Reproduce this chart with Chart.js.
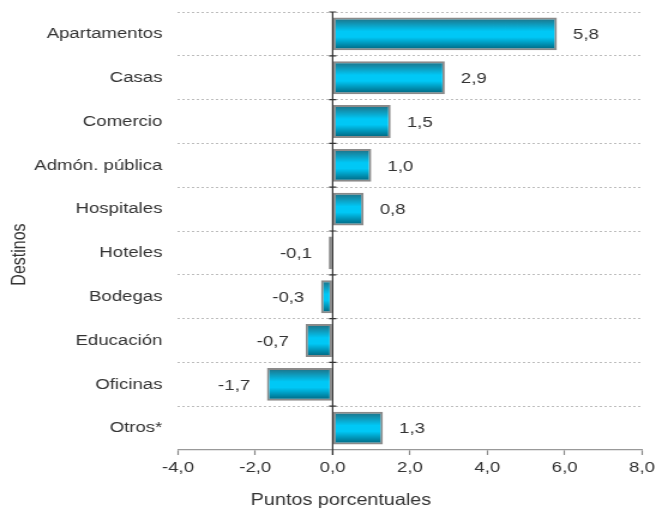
<!DOCTYPE html>
<html>
<head>
<meta charset="utf-8">
<script src="https://cdn.jsdelivr.net/npm/chart.js@4"></script>
<style>
  html, body { margin: 0; padding: 0; background: #fff; overflow: hidden; }
  #c { display: block; width: 547px; height: 508px; transform: scaleX(1.19927); transform-origin: 0 0; }
</style>
</head>
<body>
<canvas id="c" width="547" height="508"></canvas>
<script>
const categories = ['Apartamentos', 'Casas', 'Comercio', 'Admón. pública', 'Hospitales', 'Hoteles', 'Bodegas', 'Educación', 'Oficinas', 'Otros*'];
const values = [5.8, 2.9, 1.5, 1.0, 0.8, -0.1, -0.3, -0.7, -1.7, 1.3];
const xTicks = [-4, -2, 0, 2, 4, 6, 8];
const xTitle = 'Puntos porcentuales';
const yTitle = 'Destinos';

const FONT = '"Liberation Sans", Arial, sans-serif';
const fmt = v => v.toFixed(1).replace('.', ',');

const customPlugin = {
  id: 'custom',
  beforeDatasetsDraw(chart) {
    const ctx = chart.ctx;
    const meta = chart.getDatasetMeta(0);
    meta.data.forEach(el => {
      const p = el.getProps(['y', 'height'], true);
      const g = ctx.createLinearGradient(0, p.y - p.height / 2, 0, p.y + p.height / 2);
      g.addColorStop(0, '#1f6c80');
      g.addColorStop(0.42, '#00c8f6');
      g.addColorStop(0.6, '#00c8f6');
      g.addColorStop(1, '#005f77');
      el.options = Object.assign({}, el.options, { backgroundColor: g });
    });
  },
  afterDatasetsDraw(chart) {
    const ctx = chart.ctx;
    const xs = chart.scales.x;
    const ca = chart.chartArea;
    const x0 = xs.getPixelForValue(0);
    ctx.save();
    ctx.strokeStyle = '#333';
    ctx.lineWidth = 1.2;
    ctx.beginPath();
    ctx.moveTo(x0, ca.top);
    ctx.lineTo(x0, ca.bottom + 5);
    const n = categories.length;
    const h = (ca.bottom - ca.top) / n;
    for (let i = 0; i < n; i++) {
      const y = ca.top + i * h;
      ctx.moveTo(x0 - 3, y);
      ctx.lineTo(x0 + 3, y);
    }
    ctx.stroke();

    const meta = chart.getDatasetMeta(0);
    ctx.font = '15.5px ' + FONT;
    ctx.fillStyle = '#333';
    ctx.textBaseline = 'middle';
    meta.data.forEach((el, i) => {
      const v = values[i];
      const t = fmt(v);
      if (v >= 0) {
        ctx.textAlign = 'left';
        ctx.fillText(t, el.x + 13.5, el.y + 1);
      } else {
        ctx.textAlign = 'right';
        ctx.fillText(t, el.x - 14, el.y + 1);
      }
    });

    ctx.font = '16.5px ' + FONT;
    ctx.textAlign = 'center';
    ctx.textBaseline = 'alphabetic';
    ctx.fillText(xTitle, 284.3, 505);

    ctx.translate(20.8, 254.5);
    ctx.rotate(-Math.PI / 2);
    ctx.font = '16px ' + FONT;
    ctx.fillText(yTitle, 0, 0);
    ctx.restore();
  }
};

new Chart(document.getElementById('c'), {
  type: 'bar',
  data: {
    labels: categories,
    datasets: [{
      data: values,
      backgroundColor: (c) => '#00c8f6',
      borderColor: '#8a8a8a',
      borderWidth: 2,
      borderSkipped: false,
      barPercentage: 0.75,
      categoryPercentage: 1
    }]
  },
  options: {
    indexAxis: 'y',
    responsive: false,
    animation: false,
    devicePixelRatio: 1,
    layout: { padding: { top: 12, right: 11.7, left: 0, bottom: 0 } },
    plugins: { legend: { display: false }, tooltip: { enabled: false } },
    scales: {
      x: {
        min: -4, max: 8,
        afterFit(scale) { scale.height = 58; scale.paddingLeft = 0; scale.paddingRight = 0; },
        afterBuildTicks(scale) { scale.ticks = xTicks.map(v => ({ value: v })); },
        ticks: {
          callback: v => fmt(v),
          font: { family: FONT, size: 15.5 },
          color: '#333',
          padding: 3,
          maxRotation: 0
        },
        grid: {
          drawOnChartArea: false,
          drawTicks: true,
          tickLength: 5,
          tickColor: '#888',
          tickWidth: 1.2
        },
        border: { display: true, color: '#999', width: 1.3 }
      },
      y: {
        afterFit(scale) { scale.width = 148.4; scale.paddingTop = 0; scale.paddingBottom = 0; },
        ticks: {
          font: { family: FONT, size: 15.5 },
          color: '#333',
          padding: 13
        },
        grid: {
          offset: true,
          drawTicks: false,
          color: '#bdbdbd',
          lineWidth: 1
        },
        border: { display: false, dash: [2, 2] }
      }
    }
  },
  plugins: [customPlugin]
});
</script>
</body>
</html>
